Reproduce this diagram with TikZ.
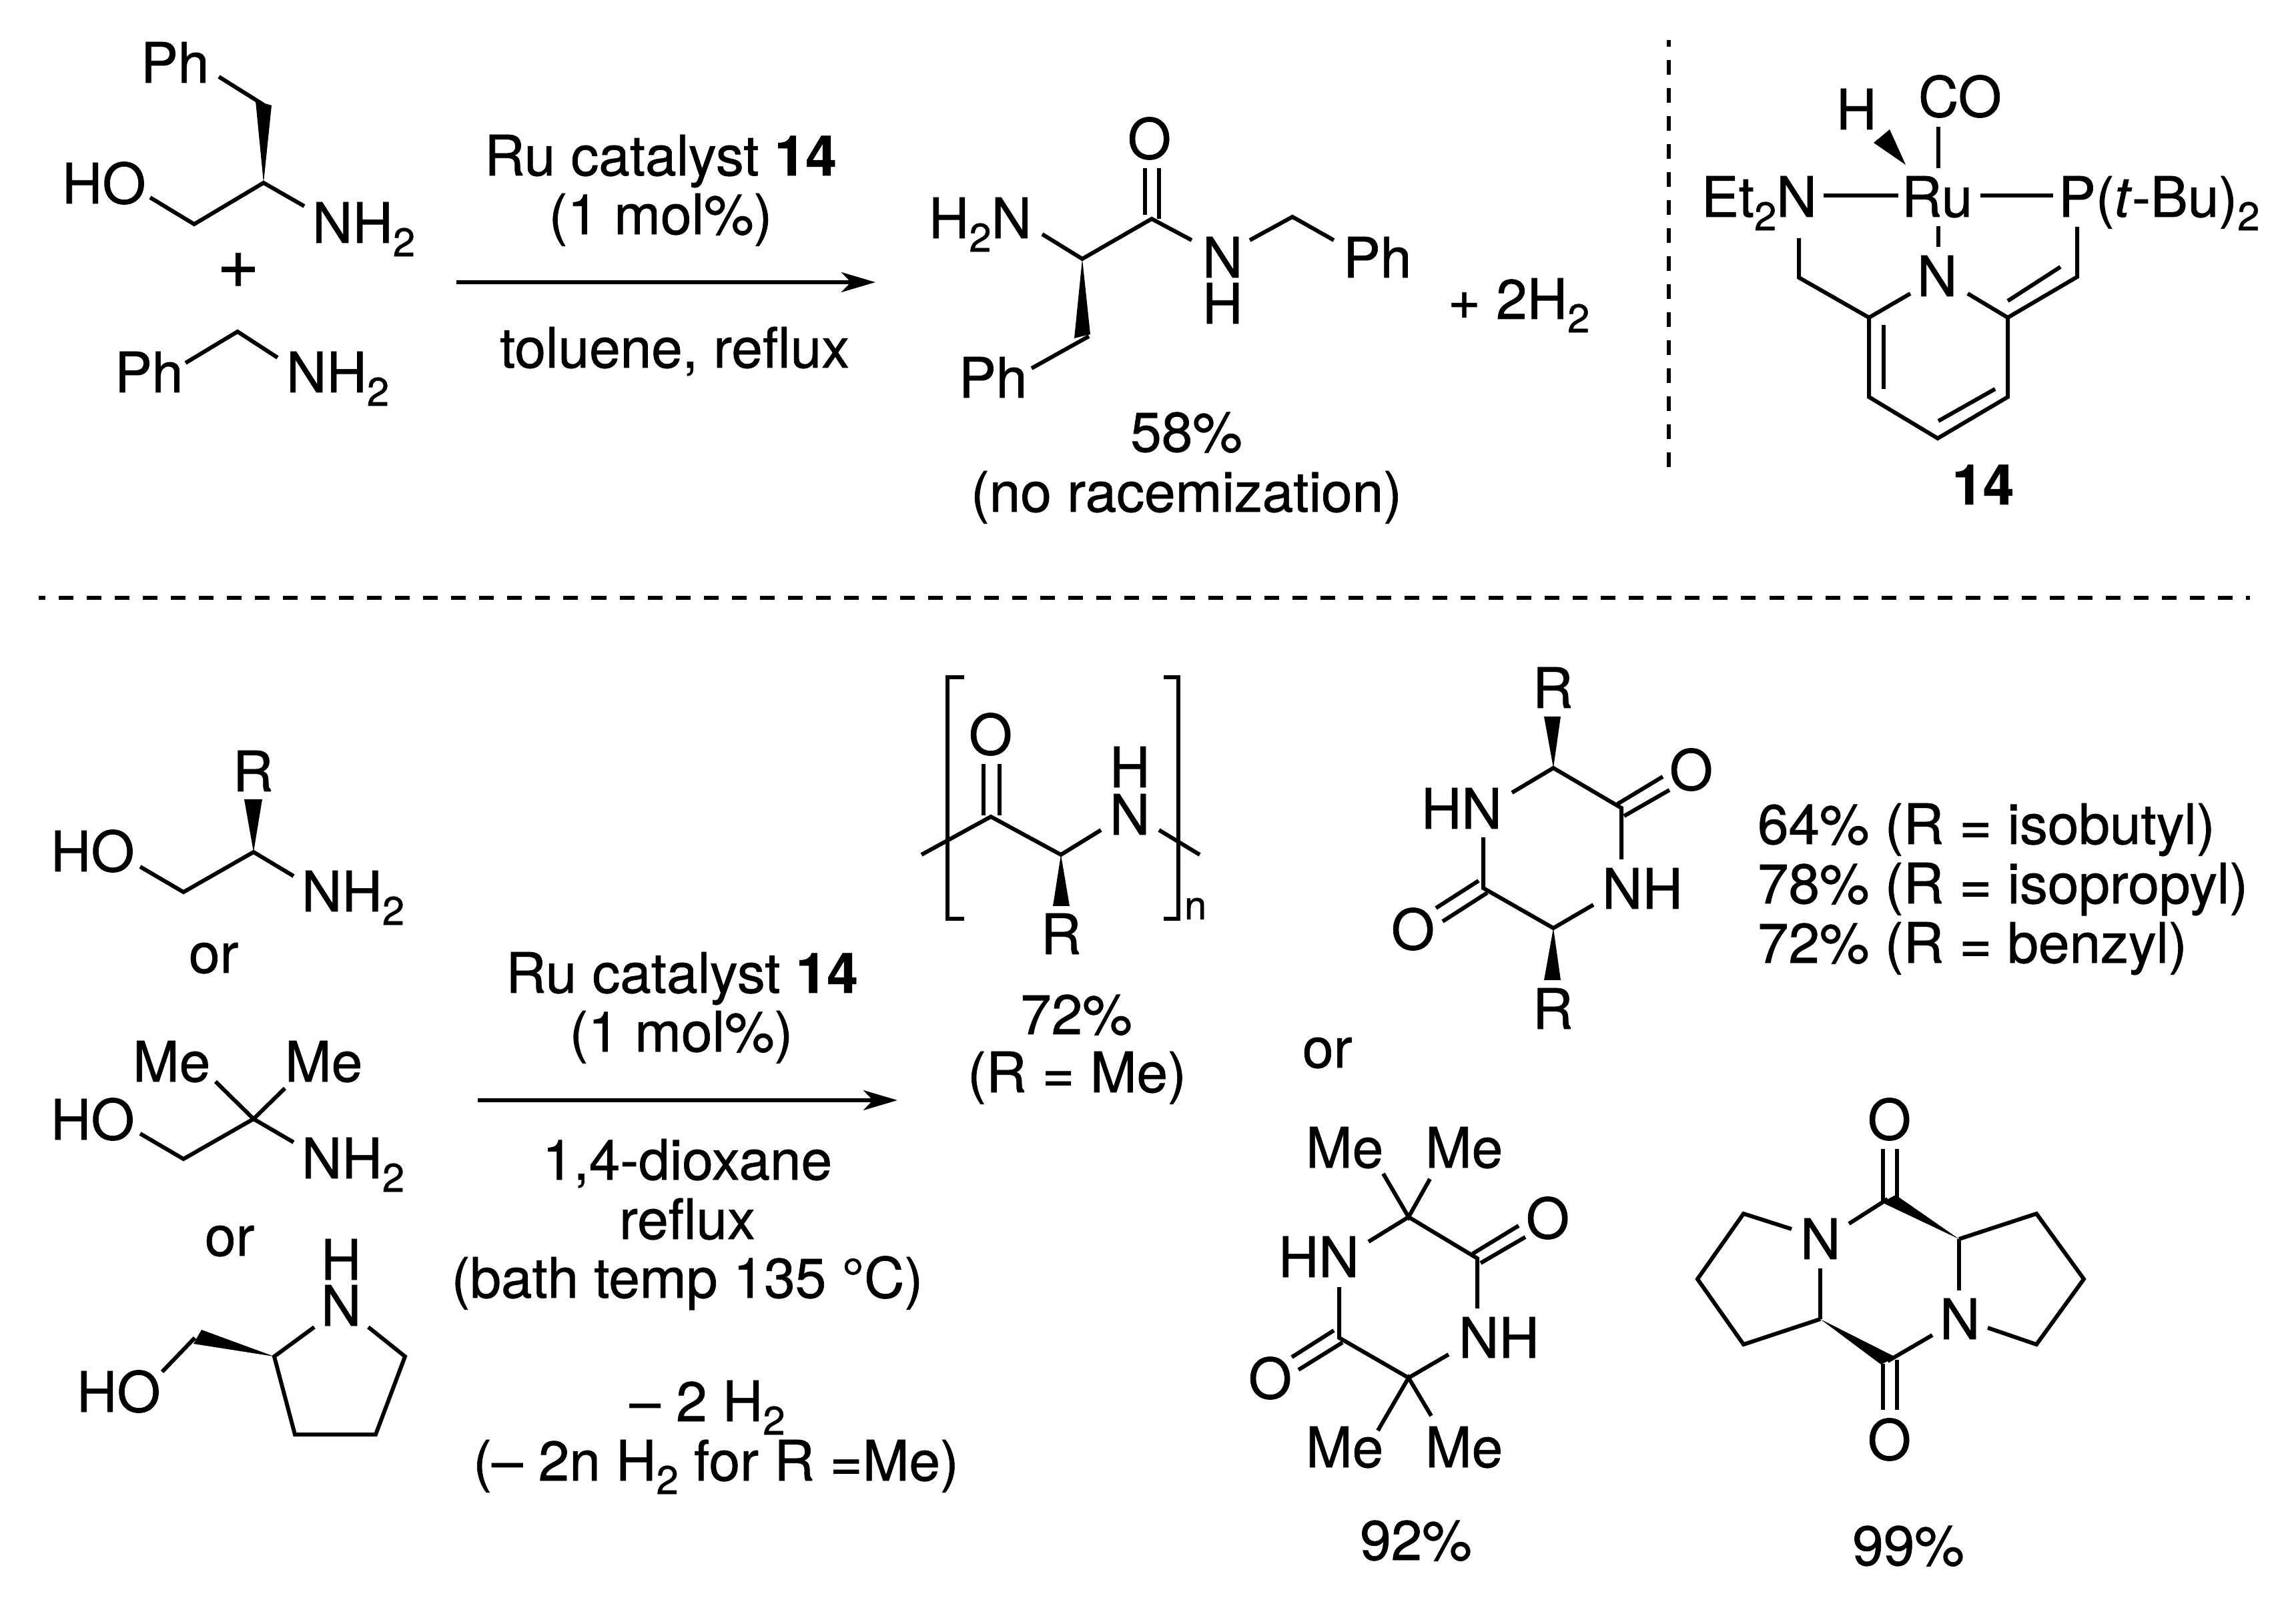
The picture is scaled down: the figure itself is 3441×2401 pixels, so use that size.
\documentclass[tikz,border=0pt]{standalone}
\usepackage{fontspec}
\setmainfont{TeX Gyre Heros}
\usetikzlibrary{arrows.meta}
\newcommand{\sbs}[1]{\raisebox{-0.24em}{\fontsize{17}{18}\selectfont\addfontfeature{FakeBold=0.8}#1}}
\tikzset{
  lab/.style={inner sep=0pt,outer sep=0pt,font=\fontsize{23.8}{28}\selectfont\addfontfeature{FakeBold=0.8},text=black},
  bd/.style={draw=black,line width=1.7pt,line cap=butt,line join=miter},
  wedge/.style={fill=black,draw=none},
  arr/.style={draw=black,line width=1.5pt,-{Stealth[length=14.5pt,width=8.5pt,inset=4pt]}},
  sep/.style={draw=black,line width=1.6pt,dash pattern=on 6.26pt off 5.69pt,dash phase=3.41pt}
}
\newcommand{\tl}[4]{\node[lab,anchor=base west] (#1) at (#2-6,#3) {#4};}
\newcommand{\tc}[4]{\node[lab,anchor=base] (#1) at (#2,#3) {#4};}
\begin{document}
\begin{tikzpicture}[x=0.01cm,y=-0.01cm]
\useasboundingbox (0,0) rectangle (3441,2401);
% ---------- top left substrate
\tl{aPh}{217}{124}{Ph}
\tl{aHO}{99}{305}{HO}
\tl{aN}{474}{364}{NH\sbs{2}}
\node[lab,anchor=base,font=\fontsize{31}{34}\selectfont\addfontfeature{FakeBold=0.8}] (plus) at (357,431) {+};
\tl{bPh}{178}{588}{Ph}
\tl{bN}{435}{588}{NH\sbs{2}}
\draw[bd] (328,115) -- (395,157);
\fill[wedge] (395,274) -- (383,151) -- (407,158) -- cycle;
\draw[bd] (225,296) -- (291,336) -- (395,274) -- (456,309);
\draw[bd] (278,544) -- (356,497) -- (416,536);
% ---------- top arrow
\tc{r1a}{990}{263}{Ru catalyst \textbf{14}}
\tc{r1b}{990}{351}{(1 mol\%)}
\tc{r1c}{1011}{551}{toluene, reflux}
\coordinate (a1s) at (684,423);
\coordinate (a1e) at (1312,423);
\draw[arr] (a1s) -- (a1e);
% ---------- top product
\tl{cO}{1696}{238}{O}
\tl{cH2N}{1398}{357}{H\sbs{2}N}
\tl{cN}{1808}{416}{N}
\tl{cH}{1808}{485}{H}
\tl{cPh}{2019}{416}{Ph}
\tl{dPh}{1443}{596}{Ph}
\draw[bd] (1716,252) -- (1716,322);
\draw[bd] (1737,252) -- (1737,328);
\draw[bd] (1562,351) -- (1622,388) -- (1726,328) -- (1786,360);
\draw[bd] (1873,360) -- (1937,325) -- (1999,360);
\fill[wedge] (1622,388) -- (1610,507) -- (1634,501) -- cycle;
\draw[bd] (1632,504) -- (1546,552);
\tc{c58}{1778}{677}{58\%}
\tc{cno}{1778}{767}{(no racemization)}
\tl{cH2}{2176}{478}{+ 2H\sbs{2}}
% ---------- separators
\coordinate (sv1) at (2501,60);
\coordinate (sv2) at (2501,710);
\draw[sep] (sv1) -- (sv2);
\coordinate (sh1) at (58,896);
\coordinate (sh2) at (3372,896);
\draw[sep] (sh1) -- (sh2);
% ---------- catalyst 14
\tl{kCO}{2881}{175}{CO}
\tl{kH}{2758}{194}{H}
\tl{kEt}{2556}{325}{Et\sbs{2}N}
\tl{kRu}{2856}{325}{Ru}
\tl{kP}{3091}{325}{P(\textit{t}-Bu)\sbs{2}}
\tl{kN}{2879}{444}{N}
\tc{k14}{2972}{756}{\textbf{14}}
\draw[bd] (2905,190) -- (2905,252);
\fill[wedge] (2856,247) -- (2808,214) -- (2832,194) -- cycle;
\draw[bd] (2733,293) -- (2845,293);
\draw[bd] (2968,293) -- (3077,293);
\draw[bd] (2905,339) -- (2905,370);
\draw[bd] (2696,357) -- (2696,416) -- (2801,476) -- (2863,440);
\draw[bd] (2801,476) -- (2801,595) -- (2904,657) -- (3009,595) -- (3009,476) -- (2949,440);
\draw[bd] (3009,476) -- (3113,415) -- (3113,340);
\draw[bd] (3009,451) -- (3088,400);
\draw[bd] (2823,487) -- (2823,583);
\draw[bd] (2905,631) -- (2990,583);
% ---------- bottom left substrates
\tl{eR}{355}{1186}{R}
\tl{eHO}{82}{1306}{HO}
\tl{eN}{458}{1366}{NH\sbs{2}}
\fill[wedge] (380,1277) -- (366,1198) -- (393,1198) -- cycle;
\draw[bd] (210,1299) -- (275,1337) -- (380,1277) -- (440,1313);
\tl{or1}{289}{1458}{or}
\tl{fMe1}{205}{1621}{Me}
\tl{fMe2}{433}{1621}{Me}
\tl{fHO}{82}{1708}{HO}
\tl{fN}{458}{1766}{NH\sbs{2}}
\draw[bd] (210,1699) -- (275,1737) -- (380,1677) -- (440,1712);
\draw[bd] (323,1621) -- (380,1677) -- (427,1631);
\tl{or2}{313}{1882}{or}
\tl{gH}{487}{1918}{H}
\tl{gN}{487}{1987}{N}
\tl{gHO}{121}{2116}{HO}
\draw[bd] (471,1989) -- (411,2033) -- (442,2150) -- (563,2150) -- (607,2033) -- (552,1989);
\fill[wedge] (411,2033) -- (302,1993) -- (290,2014) -- cycle;
\draw[bd] (292,2005) -- (243,2056);
% ---------- bottom arrow
\tc{r2a}{1022}{1488}{Ru catalyst \textbf{14}}
\tc{r2b}{1021}{1576}{(1 mol\%)}
\coordinate (a2s) at (716,1649);
\coordinate (a2e) at (1345,1649);
\draw[arr] (a2s) -- (a2e);
\tc{r2c}{1030}{1768}{1,4-dioxane}
\tc{r2d}{1030}{1857}{reflux}
\tc{r2e}{1030}{1945}{(bath temp 135 °C)}
\tc{r2f}{1060}{2130}{– 2 H\sbs{2}}
\tc{r2g}{1073}{2219}{(– 2n H\sbs{2} for R =Me)}
% ---------- polymer
\draw[bd] (1445,1015) -- (1420,1015) -- (1420,1377) -- (1445,1377);
\draw[bd] (1744,1015) -- (1766,1015) -- (1766,1377) -- (1744,1377);
\node[lab,anchor=base west,font=\fontsize{17}{20}\selectfont\addfontfeature{FakeBold=0.8}] (pn) at (1775,1378) {n};
\tl{pO}{1458}{1131}{O}
\tl{pH}{1669}{1180}{H}
\tl{pN}{1669}{1251}{N}
\tl{pR}{1566}{1430}{R}
\draw[bd] (1474,1145) -- (1474,1222);
\draw[bd] (1498,1145) -- (1498,1222);
\draw[bd] (1381,1281) -- (1485,1224) -- (1590,1281) -- (1650,1244);
\draw[bd] (1737,1244) -- (1798,1281);
\fill[wedge] (1590,1281) -- (1578,1358) -- (1603,1358) -- cycle;
\tc{p72}{1613}{1550}{72\%}
\tc{pme}{1614}{1637}{(R = Me)}
\tl{or3}{1958}{1600}{or}
% ---------- DKP 1
\tl{qR1}{2303}{1061}{R}
\tl{qHN}{2136}{1242}{HN}
\tl{qO1}{2508}{1184}{O}
\tl{qNH}{2407}{1362}{NH}
\tl{qO2}{2091}{1423}{O}
\tl{qR2}{2303}{1542}{R}
\fill[wedge] (2328,1151) -- (2314,1074) -- (2339,1074) -- cycle;
\fill[wedge] (2328,1391) -- (2314,1469) -- (2339,1469) -- cycle;
\draw[bd] (2266,1188) -- (2328,1151) -- (2430,1211) -- (2430,1288);
\draw[bd] (2424,1205) -- (2492,1164);
\draw[bd] (2434,1223) -- (2502,1184);
\draw[bd] (2223,1255) -- (2223,1331) -- (2328,1391) -- (2388,1356);
\draw[bd] (2216,1320) -- (2152,1361);
\draw[bd] (2229,1338) -- (2162,1381);
\tl{y1}{2640}{1265}{64\% (R = isobutyl)}
\tl{y2}{2640}{1354}{78\% (R = isopropyl)}
\tl{y3}{2640}{1443}{72\% (R = benzyl)}
% ---------- DKP 2
\tl{sMe1}{1963}{1750}{Me}
\tl{sMe2}{2142}{1750}{Me}
\tl{sHN}{1922}{1914}{HN}
\tl{sO1}{2293}{1856}{O}
\tl{sNH}{2192}{2035}{NH}
\tl{sO2}{1877}{2096}{O}
\tl{sMe3}{1963}{2199}{Me}
\tl{sMe4}{2142}{2199}{Me}
\draw[bd] (2073,1759) -- (2111,1824) -- (2143,1767);
\draw[bd] (2051,1861) -- (2111,1824) -- (2214,1886) -- (2214,1961);
\draw[bd] (2207,1879) -- (2276,1837);
\draw[bd] (2219,1893) -- (2286,1854);
\draw[bd] (2007,1929) -- (2007,2005) -- (2111,2065) -- (2171,2030);
\draw[bd] (1999,1994) -- (1936,2034);
\draw[bd] (2012,2012) -- (1946,2053);
\draw[bd] (2065,2144) -- (2111,2065) -- (2145,2122);
\tc{s92}{2122}{2338}{92\%}
% ---------- bicyclic DKP
\tl{uO1}{2805}{1708}{O}
\tl{uN1}{2704}{1887}{N}
\tl{uN2}{2913}{2007}{N}
\tl{uO2}{2805}{2188}{O}
\draw[bd] (2822,1722) -- (2822,1800);
\draw[bd] (2843,1722) -- (2843,1794);
\fill[wedge] (2936,1857) -- (2841,1791) -- (2820,1802) -- cycle;
\fill[wedge] (2728,1977) -- (2841,2034) -- (2819,2045) -- cycle;
\draw[bd] (2771,1834) -- (2829,1797);
\draw[bd] (2728,1901) -- (2728,1977);
\draw[bd] (2822,2044) -- (2822,2113);
\draw[bd] (2843,2038) -- (2843,2113);
\draw[bd] (2896,2001) -- (2829,2040);
\draw[bd] (2936,1857) -- (2936,1934);
\draw[bd] (2685,1842) -- (2613,1819) -- (2544,1917) -- (2613,2015) -- (2728,1977);
\draw[bd] (2936,1857) -- (3052,1819) -- (3123,1917) -- (3052,2015) -- (2979,1990);
\tc{u99}{2860}{2346}{99\%}
\end{tikzpicture}
\end{document}
